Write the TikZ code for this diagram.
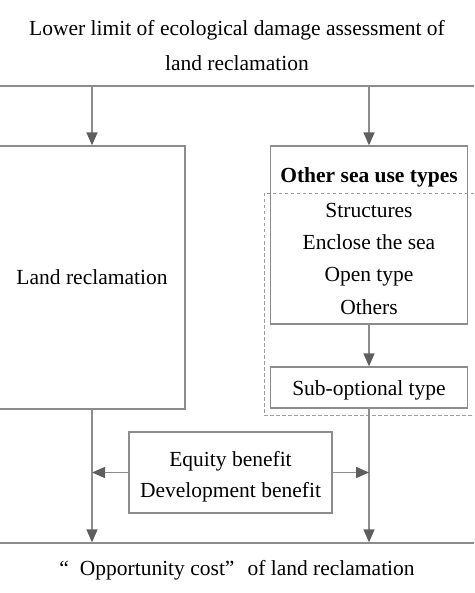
\documentclass[tikz,border=0pt]{standalone}
\usepackage{fontspec}
\setmainfont{Liberation Serif}
\usetikzlibrary{arrows.meta}
\definecolor{linegray}{HTML}{8C8C8C}
\definecolor{tipgray}{HTML}{5E5E5E}

\begin{document}
\begin{tikzpicture}[x=1pt,y=-1pt,
    box/.style={draw=linegray,line width=1.3pt,inner sep=0pt,align=center,font=\fontsize{21.5}{33}\selectfont},
    arr/.style={draw=linegray,line width=1.4pt,-{Triangle[length=13pt,width=11pt,fill=tipgray,color=tipgray]}},
    dashbox/.style={draw=linegray!85,line width=0.9pt,dash pattern=on 3.5pt off 2.5pt}]
    \useasboundingbox (0,0) rectangle (474,593);
    \clip (0,0) rectangle (474,593);
    \node[box,minimum width=480pt,minimum height=88pt,font=\fontsize{21.5}{35}\selectfont] (top) at (237,42)
      {\rule{0pt}{22pt}Lower limit of ecological damage assessment of\\land reclamation};
    \node[box,minimum width=186pt,minimum height=263pt] (lbox) at (92,277.5) {Land reclamation};
    \node[box,minimum width=197pt,minimum height=178pt,font=\fontsize{21.5}{32.3}\selectfont] (rbox) at (369,235)
      {\rule{0pt}{26.5pt}\textbf{Other sea use types}\\[3pt]Structures\\Enclose the sea\\Open type\\Others};
    \node[box,minimum width=197pt,minimum height=41pt] (sub) at (369,387.5) {\rule{0pt}{21pt}Sub-optional type};
    \node[box,minimum width=203pt,minimum height=81pt,font=\fontsize{21.5}{31}\selectfont] (ebox) at (230.5,472.5)
      {\rule{0pt}{22.7pt}Equity benefit\\Development benefit};
    \node[box,minimum width=482pt,minimum height=54pt] (bot) at (237,570)
      {“\hspace{11pt}Opportunity cost”\hspace{13pt}of land reclamation};
    % dashed group round the other sea use types
    \draw[dashbox] (264,193) rectangle (480,415);
    \draw[arr] (top.south -| lbox.north) -- (lbox.north);
    \draw[arr] (top.south -| rbox.north) -- (rbox.north);
    \draw[arr] (rbox.south) -- (sub.north);
    \draw[arr] (lbox.south) -- (bot.north -| lbox.south);
    \draw[arr] (sub.south) -- (bot.north -| sub.south);
    \draw[arr] (ebox.west) -- (ebox.west -| lbox.south);
    \draw[arr] (ebox.east) -- (ebox.east -| sub.south);
\end{tikzpicture}
\end{document}
